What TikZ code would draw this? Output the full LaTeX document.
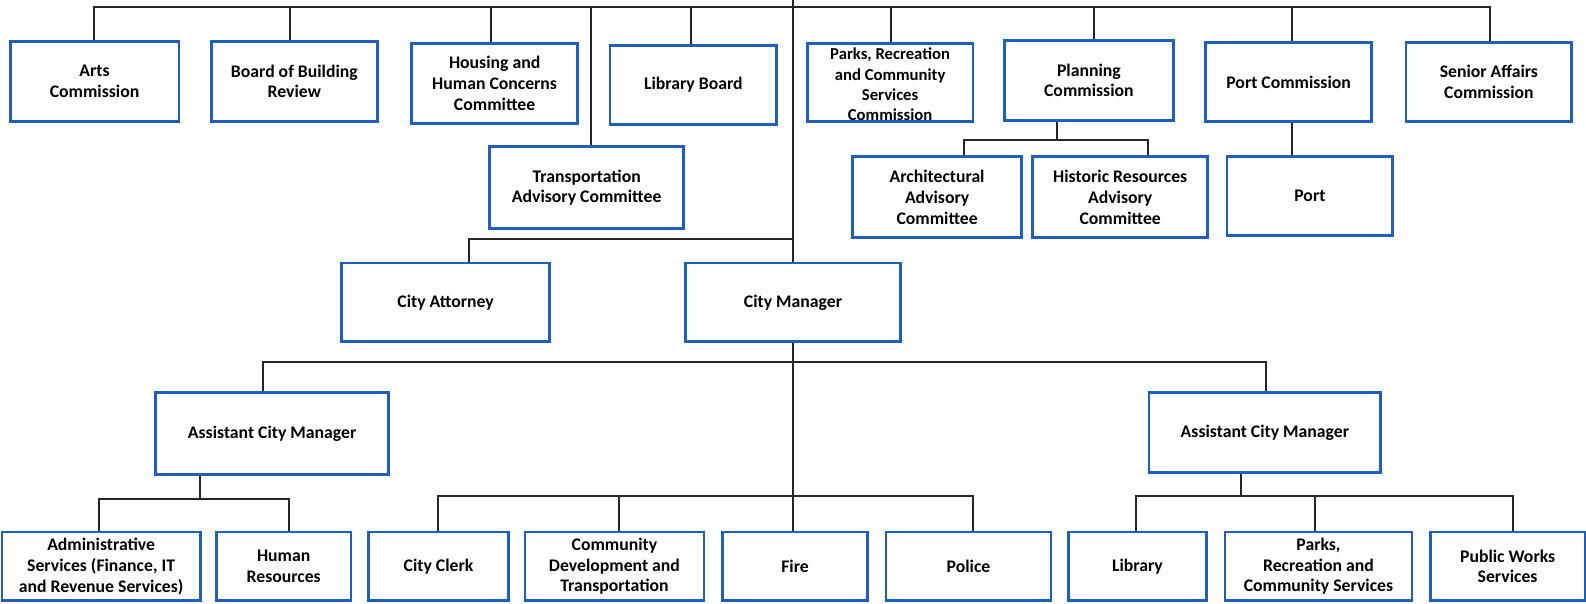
\documentclass[tikz,border=0pt]{standalone}
\usepackage{fontspec}
\setmainfont{Carlito}
\definecolor{boxblue}{RGB}{30,95,190}
\begin{document}
\begin{tikzpicture}[x=1pt,y=-1pt,
  box/.style={draw=boxblue, line width=2.8pt, fill=white, rectangle, inner sep=1pt,
    align=center, font=\bfseries\fontsize{17.5}{20.5}\selectfont},
  conn/.style={draw=black!85, line width=2pt}]
\useasboundingbox (0,0) rectangle (1568,597);
% row 1
\node[box, minimum width=167, minimum height=79] (arts) at (93.5,80.5) {Arts\\Commission};
\node[box, minimum width=164, minimum height=79] (bbr) at (291,80.5) {Board of Building\\Review};
\node[box, minimum width=164, minimum height=79] (housing) at (489,82.5) {Housing and\\Human Concerns\\Committee};
\node[box, minimum width=165, minimum height=78] (libboard) at (685.5,84) {Library Board};
\node[box, minimum width=164, minimum height=77] (parksc) at (880,81.5) {};
\node[font=\bfseries\fontsize{16.5}{20}\selectfont, align=center, inner sep=0pt] (parkst) at (880,83.5) {Parks, Recreation\\and Community\\Services\\Commission};
\node[box, minimum width=167, minimum height=79] (planning) at (1076.5,79.5) {Planning\\Commission};
\node[box, minimum width=164, minimum height=78] (portc) at (1274,81) {Port Commission};
\node[box, minimum width=164, minimum height=78] (senior) at (1472,81) {Senior Affairs\\Commission};
% row 2
\node[box, minimum width=192, minimum height=81] (transp) at (580,185.5) {Transportation\\Advisory Committee};
\node[box, minimum width=167, minimum height=80] (arch) at (926.5,195) {Architectural\\Advisory\\Committee};
\node[box, minimum width=173, minimum height=80] (hist) at (1107.5,195) {Historic Resources\\Advisory\\Committee};
\node[box, minimum width=164, minimum height=78] (port) at (1295,194) {Port};
% row 3
\node[box, minimum width=205, minimum height=78] (attorney) at (440.5,299) {City Attorney};
\node[box, minimum width=212, minimum height=78] (manager) at (784,299) {City Manager};
% row 4
\node[box, minimum width=230, minimum height=81] (acml) at (269,428.5) {Assistant City Manager};
\node[box, minimum width=229, minimum height=79] (acmr) at (1250.5,427.5) {Assistant City Manager};
% row 5
\node[box, minimum width=196, minimum height=68] (admin) at (100,560) {Administrative\\Services (Finance, IT\\and Revenue Services)};
\node[box, minimum width=133, minimum height=68] (hr) at (280.5,560) {Human\\Resources};
\node[box, minimum width=139, minimum height=68] (clerk) at (433.5,560) {City Clerk};
\node[box, minimum width=177, minimum height=68] (cdt) at (607.5,560) {Community\\Development and\\Transportation};
\node[box, minimum width=144, minimum height=68] (fire) at (786,560) {Fire};
\node[box, minimum width=163, minimum height=68] (police) at (957.5,560) {Police};
\node[box, minimum width=137, minimum height=68] (library) at (1124.5,560) {Library};
\node[box, minimum width=185, minimum height=68] (parks) at (1303.5,560) {Parks,\\Recreation and\\Community Services};
\node[box, minimum width=153, minimum height=68] (pw) at (1490.5,560) {Public Works\\Services};
% bus coordinates
\coordinate (top) at (784,0);
\coordinate (bus1) at (784,7);
\coordinate (busatt) at (784,236);
\coordinate (busplan) at (1045,138);
\coordinate (bus3) at (784,357.6);
\coordinate (busl) at (198,493);
\coordinate (busc) at (784,490);
\coordinate (busr) at (1227,490);
% connectors
\draw[conn] ([xshift=-0.5]arts.north) |- ([xshift=1.5]senior.north |- bus1) -- ([xshift=1.5]senior.north);
\draw[conn] (top) -- (manager.north);
\draw[conn] ([xshift=-4]bbr.north) -- ([xshift=-4]bbr.north |- bus1);
\draw[conn] ([xshift=-4]housing.north) -- ([xshift=-4]housing.north |- bus1);
\draw[conn] ([xshift=-2.5]libboard.north) -- ([xshift=-2.5]libboard.north |- bus1);
\draw[conn] ([xshift=1]parksc.north) -- ([xshift=1]parksc.north |- bus1);
\draw[conn] ([xshift=5.5]planning.north) -- ([xshift=5.5]planning.north |- bus1);
\draw[conn] ([xshift=3]portc.north) -- ([xshift=3]portc.north |- bus1);
\draw[conn] ([xshift=4]transp.north) -- ([xshift=4]transp.north |- bus1);
% planning subtree
\draw[conn] ([xshift=-31.5]planning.south) -- ([xshift=-31.5]planning.south |- busplan);
\draw[conn] ([xshift=26.5]arch.north) |- (busplan) -| ([xshift=27.5]hist.north);
% port
\draw[conn] ([xshift=3]portc.south) -- ([xshift=3]portc.south |- port.north);
% attorney
\draw[conn] ([xshift=23.5]attorney.north) |- (busatt);
% manager down to fire
\draw[conn] (manager.south) -- (manager.south |- fire.north);
\draw[conn] ([xshift=-9]acml.north) |- ([xshift=1]acmr.north |- bus3) -- ([xshift=1]acmr.north);
% left ACM
\draw[conn] ([xshift=-71]acml.south) -- ([xshift=-71]acml.south |- busl);
\draw[conn] ([xshift=-2]admin.north) |- ([xshift=5.5]hr.north |- busl) -- ([xshift=5.5]hr.north);
% center
\draw[conn] (clerk.north) |- ([xshift=4.5]police.north |- busc) -- ([xshift=4.5]police.north);
\draw[conn] ([xshift=4.5]cdt.north) -- ([xshift=4.5]cdt.north |- busc);
% right ACM
\draw[conn] ([xshift=-23.5]acmr.south) -- ([xshift=-23.5]acmr.south |- busr);
\draw[conn] ([xshift=-1.5]library.north) |- ([xshift=5.5]pw.north |- busr) -- ([xshift=5.5]pw.north);
\draw[conn] ([xshift=-3.5]parks.north) -- ([xshift=-3.5]parks.north |- busr);
\end{tikzpicture}
\end{document}
